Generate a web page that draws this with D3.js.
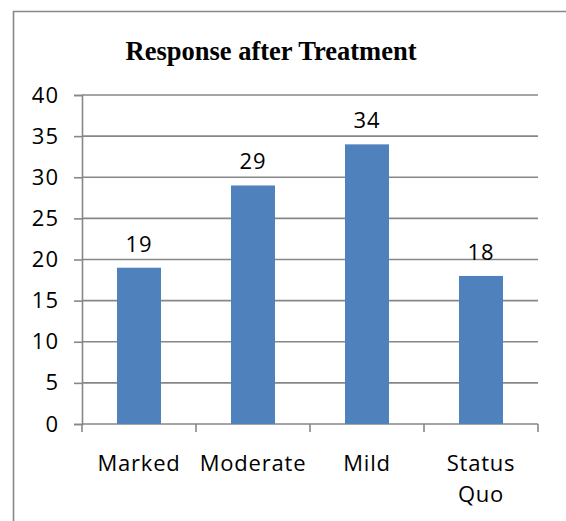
<!DOCTYPE html>
<html>
<head>
<meta charset="utf-8">
<title>Response after Treatment</title>
<style>
    body { margin: 0; background: #fff; }
    svg text { font-family: "Open Sans", "Noto Sans", sans-serif; fill: #000; }
    .title { font-family: "Liberation Serif", "Times New Roman", serif; font-weight: bold; }
    .grid line, .axis line, .axis path { stroke: #878787; stroke-width: 1.6px; }
</style>
<script src="https://cdnjs.cloudflare.com/ajax/libs/d3/7.8.5/d3.min.js"></script>
</head>
<body>
<script>
    const categories = ['Marked', 'Moderate', 'Mild', 'Status Quo'];
    const values = [19, 29, 34, 18];
    const yTicks = [0, 5, 10, 15, 20, 25, 30, 35, 40];

    const width = 566, height = 521;
    const plotLeft = 82, plotRight = 538, plotTop = 95, plotBottom = 424;

    const svg = d3.select('body').append('svg')
        .attr('width', width)
        .attr('height', height);

    // outer chart border (only left and top edges are inside the crop)
    svg.append('path')
        .attr('d', `M13.5,${height} V11.5 H${width}`)
        .attr('fill', 'none')
        .attr('stroke', '#878787')
        .attr('stroke-width', 1.6);

    svg.append('text')
        .attr('class', 'title')
        .attr('x', 271)
        .attr('y', 60)
        .attr('text-anchor', 'middle')
        .style('font-size', '26.5px')
        .text('Response after Treatment');

    const x = d3.scaleBand().domain(categories).range([plotLeft, plotRight]);
    const y = d3.scaleLinear().domain([0, 40]).range([plotBottom, plotTop]);

    // horizontal gridlines
    svg.append('g').attr('class', 'grid')
        .selectAll('line')
        .data(yTicks.filter(d => d > 0))
        .join('line')
        .attr('x1', plotLeft).attr('x2', plotRight)
        .attr('y1', d => y(d)).attr('y2', d => y(d));

    // y axis
    const yAxis = svg.append('g').attr('class', 'axis')
        .attr('transform', `translate(${plotLeft},0)`)
        .call(d3.axisLeft(y).tickValues(yTicks).tickSize(8).tickPadding(15));
    yAxis.selectAll('text').style('font-size', '22px').style('letter-spacing', '1px');

    // x axis with ticks between categories
    const xg = svg.append('g').attr('class', 'axis')
        .attr('transform', `translate(0,${plotBottom})`);
    xg.append('line').attr('x1', plotLeft).attr('x2', plotRight);
    xg.selectAll('line.tk')
        .data(d3.range(categories.length + 1))
        .join('line').attr('class', 'tk')
        .attr('x1', i => plotLeft + i * x.bandwidth())
        .attr('x2', i => plotLeft + i * x.bandwidth())
        .attr('y1', 0).attr('y2', 8);

    const barW = x.bandwidth() * 0.386;

    svg.append('g')
        .selectAll('rect')
        .data(values)
        .join('rect')
        .attr('x', (d, i) => x(categories[i]) + (x.bandwidth() - barW) / 2)
        .attr('width', barW)
        .attr('y', d => y(d))
        .attr('height', d => y(0) - y(d))
        .attr('fill', '#4f81bd');

    svg.append('g')
        .selectAll('text')
        .data(values)
        .join('text')
        .attr('x', (d, i) => x(categories[i]) + x.bandwidth() / 2)
        .attr('y', d => y(d) - 16)
        .attr('text-anchor', 'middle')
        .style('font-size', '22px')
        .style('letter-spacing', '1px')
        .text(d => d);

    // category labels, wrapped on spaces
    const cat = svg.append('g')
        .selectAll('text')
        .data(categories)
        .join('text')
        .attr('text-anchor', 'middle')
        .style('font-size', '22px')
        .style('letter-spacing', '0.8px')
        .attr('transform', d => `translate(${x(d) + x.bandwidth() / 2},471)`);
    cat.each(function(d) {
        const words = d.split(' ');
        d3.select(this).selectAll('tspan')
            .data(words)
            .join('tspan')
            .attr('x', 0)
            .attr('dy', (w, i) => i ? 31 : 0)
            .text(w => w);
    });
</script>
</body>
</html>
